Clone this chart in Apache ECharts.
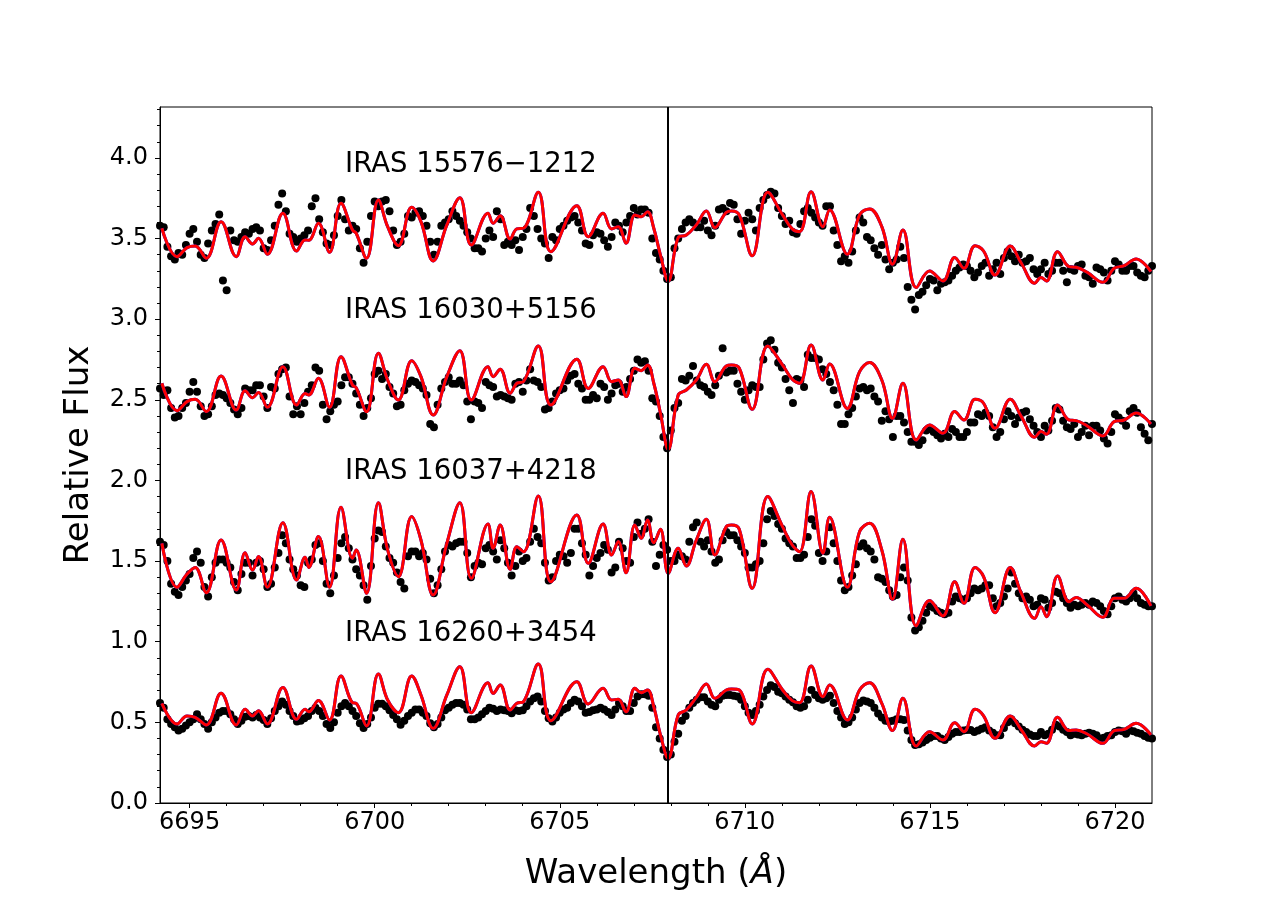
<!DOCTYPE html>
<html><head><meta charset="utf-8">
<script src="https://cdn.jsdelivr.net/npm/echarts@6/dist/echarts.min.js"></script>
<style>html,body{margin:0;padding:0;background:#fff}#chart{width:1280px;height:902px}</style>
</head><body><div id="chart"></div>
<script>
// ---------- axis ticks ----------
const xTicks = [6695, 6700, 6705, 6710, 6715, 6720];
const xMinorTicks = [6695,6696,6697,6698,6699,6700,6701,6702,6703,6704,6705,6706,6707,6708,6709,6710,6711,6712,6713,6714,6715,6716,6717,6718,6719,6720];
const yTicks = [0.0, 0.5, 1.0, 1.5, 2.0, 2.5, 3.0, 3.5, 4.0];
const yMinorTicks = [0.1,0.2,0.3,0.4,0.6,0.7,0.8,0.9,1.1,1.2,1.3,1.4,1.6,1.7,1.8,1.9,2.1,2.2,2.3,2.4,2.6,2.7,2.8,2.9,3.1,3.2,3.3,3.4,3.6,3.7,3.8,3.9,4.1,4.2,4.3];
const liLine = 6707.91;

// ---------- star labels ----------
const starNames = ['IRAS 15576\u22121212', 'IRAS 16030+5156', 'IRAS 16037+4218', 'IRAS 16260+3454'];
const labelX = [6699.2, 6699.2, 6699.2, 6699.2];
const labelY = [3.96, 3.05, 2.055, 1.05];

// ---------- observed spectra (wavelength grid 6694.2 .. 6721.0, step 0.1 A) ----------
const obsStart = 6694.2, obsStep = 0.1;
const obs1 = [3.58,3.57,3.45,3.39,3.37,3.41,3.40,3.46,3.53,3.56,
3.48,3.40,3.38,3.47,3.55,3.59,3.65,3.24,3.18,3.55,
3.49,3.48,3.51,3.54,3.53,3.56,3.57,3.55,3.44,3.43,
3.49,3.58,3.71,3.78,3.67,3.53,3.51,3.48,3.50,3.52,
3.55,3.70,3.75,3.62,3.54,3.47,3.46,3.52,3.64,3.74,
3.62,3.55,3.58,3.56,3.44,3.35,3.48,3.64,3.73,3.70,
3.73,3.74,3.67,3.55,3.46,3.48,3.53,3.64,3.63,3.66,
3.67,3.64,3.58,3.48,3.40,3.48,3.58,3.60,3.62,3.67,
3.64,3.61,3.58,3.54,3.50,3.44,3.44,3.42,3.50,3.55,
3.51,3.67,3.62,3.46,3.48,3.46,3.49,3.43,3.51,3.56,
3.69,3.64,3.56,3.50,3.47,3.38,3.51,3.49,3.56,3.58,
3.61,3.63,3.64,3.60,3.55,3.47,3.46,3.52,3.54,3.53,
3.49,3.45,3.51,3.60,3.58,3.54,3.60,3.64,3.69,3.65,
3.68,3.68,3.66,3.50,3.41,3.37,3.30,3.25,3.26,3.44,
3.50,3.56,3.60,3.62,3.60,3.57,3.57,3.61,3.55,3.52,
3.58,3.68,3.69,3.67,3.72,3.71,3.62,3.53,3.61,3.66,
3.62,3.55,3.69,3.74,3.77,3.79,3.78,3.69,3.64,3.59,
3.61,3.54,3.53,3.59,3.67,3.69,3.66,3.63,3.60,3.58,
3.70,3.70,3.55,3.46,3.36,3.39,3.35,3.42,3.55,3.63,
3.60,3.51,3.49,3.44,3.40,3.46,3.37,3.31,3.35,3.37,
3.45,3.38,3.20,3.12,3.06,3.15,3.17,3.21,3.25,3.24,
3.18,3.22,3.23,3.24,3.27,3.30,3.32,3.34,3.33,3.30,
3.26,3.29,3.33,3.35,3.27,3.31,3.35,3.28,3.38,3.42,
3.39,3.36,3.40,3.35,3.36,3.38,3.31,3.28,3.31,3.35,
3.28,3.30,3.35,3.35,3.30,3.23,3.31,3.30,3.33,3.34,
3.27,3.26,3.22,3.32,3.31,3.29,3.24,3.30,3.36,3.34,
3.30,3.30,3.33,3.33,3.29,3.27,3.26,3.30,3.33];
const obs2 = [2.57,2.53,2.56,2.45,2.39,2.40,2.45,2.48,2.55,2.61,
2.55,2.46,2.40,2.41,2.46,2.53,2.54,2.53,2.51,2.48,
2.44,2.41,2.45,2.57,2.56,2.56,2.59,2.59,2.52,2.45,
2.58,2.57,2.66,2.69,2.70,2.52,2.41,2.46,2.41,2.48,
2.55,2.59,2.70,2.68,2.47,2.38,2.43,2.47,2.49,2.59,
2.64,2.64,2.60,2.54,2.47,2.40,2.45,2.51,2.66,2.68,
2.63,2.66,2.58,2.54,2.46,2.47,2.56,2.60,2.62,2.61,
2.59,2.57,2.53,2.35,2.33,2.47,2.57,2.61,2.64,2.60,
2.60,2.62,2.59,2.49,2.38,2.49,2.48,2.45,2.61,2.59,
2.58,2.52,2.53,2.52,2.51,2.50,2.60,2.61,2.55,2.62,
2.69,2.62,2.61,2.58,2.44,2.45,2.49,2.54,2.56,2.57,
2.62,2.65,2.66,2.60,2.57,2.50,2.50,2.53,2.51,2.60,
2.58,2.50,2.54,2.59,2.60,2.55,2.58,2.63,2.68,2.75,
2.73,2.74,2.68,2.51,2.49,2.40,2.27,2.20,2.31,2.45,
2.48,2.63,2.62,2.65,2.71,2.62,2.59,2.58,2.55,2.53,
2.59,2.65,2.82,2.67,2.68,2.68,2.60,2.55,2.50,2.56,
2.59,2.58,2.58,2.75,2.85,2.87,2.81,2.73,2.70,2.63,
2.56,2.48,2.63,2.62,2.58,2.78,2.76,2.76,2.75,2.69,
2.66,2.61,2.56,2.47,2.35,2.35,2.41,2.45,2.52,2.57,
2.58,2.56,2.57,2.52,2.49,2.37,2.43,2.38,2.27,2.40,
2.40,2.36,2.30,2.24,2.24,2.22,2.25,2.31,2.32,2.30,
2.28,2.26,2.29,2.27,2.32,2.30,2.27,2.27,2.30,2.36,
2.36,2.41,2.40,2.42,2.40,2.33,2.27,2.30,2.38,2.43,
2.40,2.35,2.39,2.42,2.43,2.38,2.34,2.30,2.27,2.34,
2.31,2.37,2.45,2.44,2.37,2.33,2.32,2.35,2.27,2.30,
2.34,2.28,2.34,2.34,2.31,2.26,2.23,2.30,2.41,2.39,
2.37,2.34,2.43,2.45,2.42,2.33,2.29,2.25,2.35];
const obs3 = [1.62,1.60,1.50,1.36,1.31,1.29,1.34,1.38,1.42,1.52,
1.56,1.49,1.34,1.28,1.40,1.49,1.51,1.51,1.49,1.46,
1.37,1.32,1.42,1.49,1.49,1.41,1.49,1.50,1.45,1.34,
1.36,1.46,1.55,1.66,1.61,1.51,1.45,1.41,1.35,1.34,
1.49,1.51,1.60,1.61,1.50,1.36,1.30,1.41,1.52,1.61,
1.65,1.58,1.51,1.45,1.41,1.35,1.26,1.47,1.64,1.69,
1.68,1.59,1.52,1.49,1.43,1.37,1.33,1.53,1.56,1.56,
1.53,1.55,1.51,1.39,1.30,1.35,1.45,1.56,1.60,1.59,
1.61,1.62,1.62,1.55,1.40,1.47,1.49,1.48,1.58,1.60,
1.56,1.51,1.63,1.58,1.49,1.41,1.47,1.56,1.50,1.52,
1.62,1.70,1.65,1.61,1.49,1.38,1.40,1.50,1.54,1.53,
1.49,1.55,1.70,1.70,1.61,1.54,1.41,1.47,1.52,1.55,
1.60,1.57,1.43,1.46,1.62,1.58,1.50,1.49,1.65,1.74,
1.67,1.70,1.76,1.62,1.47,1.54,1.60,1.57,1.50,1.50,
1.54,1.53,1.51,1.62,1.71,1.74,1.62,1.59,1.63,1.56,
1.49,1.51,1.63,1.68,1.66,1.66,1.63,1.59,1.55,1.46,
1.46,1.48,1.50,1.61,1.76,1.81,1.78,1.73,1.70,1.64,
1.61,1.59,1.52,1.52,1.54,1.65,1.76,1.72,1.55,1.50,
1.56,1.71,1.61,1.50,1.38,1.32,1.34,1.41,1.48,1.59,
1.61,1.58,1.56,1.51,1.40,1.39,1.37,1.32,1.28,1.29,
1.40,1.46,1.38,1.15,1.07,1.09,1.13,1.18,1.22,1.21,
1.19,1.18,1.17,1.18,1.25,1.28,1.27,1.26,1.27,1.30,
1.33,1.32,1.33,1.35,1.35,1.27,1.22,1.24,1.28,1.33,
1.43,1.36,1.30,1.27,1.28,1.26,1.22,1.23,1.27,1.26,
1.21,1.24,1.31,1.30,1.27,1.24,1.21,1.23,1.22,1.23,
1.24,1.23,1.25,1.24,1.22,1.19,1.17,1.22,1.27,1.28,
1.26,1.25,1.27,1.30,1.27,1.24,1.23,1.22,1.22];
const obs4 = [0.62,0.59,0.52,0.49,0.47,0.45,0.46,0.48,0.50,0.52,
0.55,0.52,0.49,0.46,0.50,0.53,0.56,0.57,0.57,0.55,
0.52,0.49,0.51,0.535,0.54,0.53,0.545,0.53,0.515,0.49,
0.525,0.57,0.60,0.63,0.61,0.57,0.54,0.505,0.51,0.525,
0.54,0.57,0.59,0.57,0.54,0.49,0.465,0.50,0.56,0.60,
0.62,0.60,0.57,0.54,0.495,0.465,0.49,0.53,0.59,0.615,
0.615,0.60,0.575,0.545,0.52,0.485,0.51,0.54,0.56,0.58,
0.58,0.56,0.54,0.495,0.47,0.49,0.53,0.575,0.59,0.61,
0.62,0.62,0.61,0.58,0.52,0.52,0.53,0.55,0.57,0.59,
0.585,0.57,0.58,0.575,0.57,0.556,0.575,0.57,0.575,0.60,
0.63,0.65,0.66,0.63,0.57,0.525,0.505,0.53,0.56,0.58,
0.59,0.62,0.64,0.63,0.60,0.56,0.565,0.575,0.58,0.59,
0.58,0.565,0.545,0.58,0.62,0.60,0.57,0.57,0.62,0.66,
0.675,0.675,0.665,0.59,0.47,0.40,0.33,0.285,0.30,0.38,
0.43,0.51,0.54,0.59,0.62,0.64,0.655,0.655,0.63,0.61,
0.60,0.64,0.665,0.67,0.67,0.665,0.66,0.64,0.60,0.56,
0.545,0.57,0.61,0.66,0.70,0.73,0.72,0.69,0.68,0.66,
0.64,0.625,0.60,0.59,0.60,0.64,0.70,0.67,0.65,0.64,
0.65,0.665,0.62,0.57,0.53,0.49,0.50,0.53,0.58,0.62,
0.635,0.63,0.62,0.59,0.555,0.53,0.51,0.505,0.51,0.52,
0.52,0.515,0.45,0.39,0.36,0.365,0.375,0.39,0.405,0.415,
0.415,0.40,0.39,0.41,0.43,0.44,0.44,0.45,0.453,0.453,
0.44,0.45,0.46,0.47,0.45,0.435,0.42,0.42,0.465,0.50,
0.52,0.495,0.475,0.455,0.44,0.425,0.415,0.415,0.44,0.42,
0.43,0.455,0.485,0.475,0.455,0.44,0.42,0.43,0.425,0.42,
0.43,0.435,0.43,0.42,0.40,0.405,0.415,0.42,0.44,0.45,
0.445,0.43,0.45,0.445,0.435,0.43,0.415,0.405,0.40];

// ---------- synthetic (model) spectra, read at feature wavelengths ----------
const modelWave = [6694.25,6694.66,6694.93,6695.15,6695.45,6695.85,6696.26,6696.50,6696.70,6696.86,
6697.10,6697.52,6697.89,6698.12,6698.22,6698.48,6698.78,6699.09,6699.40,6699.50,
6699.78,6700.10,6700.35,6700.64,6701.00,6701.25,6701.58,6701.95,6702.30,6702.61,
6703.06,6703.20,6703.39,6703.66,6703.84,6704.02,6704.42,6704.76,6705.46,6705.77,
6706.17,6706.40,6706.58,6706.79,6707.03,6707.20,6707.37,6707.54,6707.72,6707.93,
6708.20,6708.42,6708.69,6708.96,6709.19,6709.50,6709.64,6709.85,6710.20,6710.62,
6711.02,6711.28,6711.48,6711.79,6712.11,6712.29,6712.77,6713.10,6713.37,6713.70,
6713.99,6714.27,6714.63,6714.99,6715.35,6715.67,6715.92,6716.22,6716.45,6716.76,
6717.17,6717.47,6717.83,6718.00,6718.15,6718.45,6718.76,6718.95,6719.25,6719.67,
6719.98,6720.25,6720.57,6720.97];
const model1 = [3.564,3.388,3.444,3.454,3.378,3.605,3.388,3.512,3.467,3.502,
3.403,3.657,3.423,3.491,3.490,3.595,3.415,3.719,3.553,3.533,
3.378,3.740,3.574,3.456,3.694,3.605,3.361,3.585,3.754,3.460,
3.657,3.595,3.642,3.498,3.560,3.564,3.787,3.419,3.704,3.512,
3.657,3.560,3.574,3.471,3.647,3.636,3.667,3.564,3.398,3.237,
3.506,3.522,3.585,3.671,3.568,3.663,3.671,3.647,3.394,3.787,
3.647,3.560,3.543,3.791,3.574,3.678,3.403,3.647,3.684,3.574,
3.341,3.553,3.196,3.299,3.237,3.382,3.316,3.456,3.423,3.274,
3.454,3.347,3.223,3.258,3.237,3.419,3.326,3.322,3.291,3.229,
3.316,3.332,3.374,3.295];
const model2 = [2.603,2.433,2.489,2.503,2.427,2.648,2.437,2.557,2.513,2.545,
2.454,2.706,2.468,2.540,2.530,2.634,2.454,2.768,2.592,2.575,
2.427,2.789,2.623,2.499,2.743,2.644,2.406,2.644,2.805,2.499,
2.706,2.644,2.690,2.541,2.603,2.613,2.834,2.468,2.752,2.571,
2.706,2.613,2.623,2.520,2.696,2.681,2.716,2.603,2.417,2.193,
2.530,2.561,2.623,2.720,2.613,2.710,2.716,2.696,2.441,2.834,
2.716,2.628,2.603,2.840,2.623,2.722,2.447,2.675,2.731,2.623,
2.386,2.603,2.251,2.344,2.293,2.427,2.375,2.503,2.479,2.324,
2.503,2.396,2.268,2.303,2.287,2.468,2.375,2.371,2.338,2.276,
2.365,2.375,2.419,2.350];
const model3 = [1.610,1.338,1.420,1.461,1.304,1.631,1.321,1.552,1.445,1.528,
1.338,1.738,1.383,1.524,1.461,1.652,1.338,1.834,1.517,1.569,
1.300,1.862,1.569,1.404,1.776,1.631,1.290,1.610,1.862,1.393,
1.730,1.579,1.724,1.449,1.589,1.558,1.904,1.372,1.786,1.486,
1.730,1.538,1.621,1.428,1.724,1.642,1.755,1.614,1.697,1.424,
1.579,1.470,1.631,1.759,1.538,1.714,1.724,1.697,1.331,1.900,
1.714,1.600,1.558,1.931,1.549,1.772,1.338,1.683,1.734,1.569,
1.263,1.635,1.098,1.255,1.160,1.372,1.238,1.461,1.404,1.180,
1.461,1.300,1.145,1.217,1.155,1.408,1.248,1.275,1.228,1.152,
1.269,1.269,1.331,1.222];
const model4 = [0.618,0.490,0.540,0.531,0.484,0.680,0.484,0.581,0.540,0.572,
0.490,0.717,0.519,0.581,0.566,0.635,0.515,0.788,0.622,0.618,
0.478,0.800,0.639,0.560,0.788,0.670,0.463,0.670,0.845,0.560,
0.746,0.680,0.732,0.577,0.618,0.628,0.862,0.510,0.752,0.614,
0.711,0.639,0.643,0.566,0.711,0.684,0.701,0.597,0.422,0.277,
0.546,0.577,0.655,0.738,0.649,0.701,0.707,0.701,0.490,0.829,
0.701,0.635,0.622,0.850,0.659,0.732,0.515,0.701,0.746,0.618,
0.449,0.649,0.353,0.442,0.391,0.498,0.442,0.581,0.540,0.401,
0.540,0.453,0.353,0.380,0.370,0.531,0.449,0.453,0.428,0.370,
0.449,0.457,0.494,0.422];

// ---------- build ----------
const FONT = 'DejaVu Sans';
const obsList = [obs1, obs2, obs3, obs4];
const modelList = [model1, model2, model3, model4];
const pairsObs = arr => arr.map((v, i) => [+(obsStart + obsStep * i).toFixed(2), v]);
const pairsModel = arr => arr.map((v, i) => [modelWave[i], v]);

const series = [];
obsList.forEach((o, i) => {
  const s = {
    type: 'scatter', xAxisIndex: 0, yAxisIndex: 0, data: pairsObs(o),
    symbol: 'circle', symbolSize: 8, itemStyle: { color: '#000', opacity: 1 }, z: 2, silent: true
  };
  if (i === 0) {
    s.markLine = {
      symbol: 'none', silent: true, label: { show: false },
      lineStyle: { color: '#000', type: 'solid', width: 2, opacity: 1 },
      data: [{ xAxis: liLine }]
    };
  }
  series.push(s);
});
modelList.forEach(m => {
  series.push({ type: 'line', xAxisIndex: 0, yAxisIndex: 0, data: pairsModel(m), showSymbol: false, smooth: 0.4,
    lineStyle: { color: '#0000ff', width: 3 }, z: 3, silent: true });
  series.push({ type: 'line', xAxisIndex: 0, yAxisIndex: 0, data: pairsModel(m), showSymbol: false, smooth: 0.4,
    lineStyle: { color: '#ff0000', width: 3 }, z: 4, silent: true });
});
series.push({
  type: 'scatter', xAxisIndex: 0, yAxisIndex: 0, symbolSize: 0, silent: true, z: 5,
  itemStyle: { opacity: 1 },
  data: starNames.map((n, i) => [labelX[i], labelY[i], n]),
  label: { show: true, position: 'right', distance: 0, formatter: p => p.data[2],
    fontSize: 27.5, fontFamily: FONT, color: '#000', opacity: 1 }
});

const chart = echarts.init(document.getElementById('chart'), null, { renderer: 'canvas' });
chart.setOption({
  animation: false,
  backgroundColor: '#fff',
  grid: { left: 160, right: 128, top: 107, bottom: 99, show: true, borderColor: '#000', borderWidth: 1, backgroundColor: 'transparent' },
  xAxis: [{
    type: 'value', min: 6694.2, max: 6721, position: 'bottom',
    axisLine: { show: true, onZero: false, lineStyle: { color: '#000', width: 1 } },
    axisTick: { show: true, customValues: xTicks, length: 5, lineStyle: { color: '#000', width: 1 } },
    axisLabel: { customValues: xTicks, fontSize: 24, fontFamily: FONT, color: '#000', margin: 8, formatter: v => String(Math.round(v)) },
    splitLine: { show: false },
    name: 'Wavelength ({it|\u00C5})', nameLocation: 'middle', nameGap: 54,
    nameTextStyle: { fontSize: 34, fontFamily: FONT, color: '#000',
      rich: { it: { fontSize: 34, fontFamily: FONT, fontStyle: 'italic', color: '#000' } } }
  }, {
    type: 'value', min: 6694.2, max: 6721, position: 'bottom',
    axisLine: { show: false },
    axisTick: { show: true, customValues: xMinorTicks, length: 3, lineStyle: { color: '#000', width: 1 } },
    axisLabel: { show: false }, splitLine: { show: false }
  }],
  yAxis: [{
    type: 'value', min: 0, max: 4.316, position: 'left',
    axisLine: { show: true, onZero: false, lineStyle: { color: '#000', width: 1 } },
    axisTick: { show: true, customValues: yTicks, length: 5, lineStyle: { color: '#000', width: 1 } },
    axisLabel: { customValues: yTicks, fontSize: 24, fontFamily: FONT, color: '#000', margin: 12, formatter: v => v.toFixed(1) },
    splitLine: { show: false },
    name: 'Relative Flux', nameLocation: 'middle', nameGap: 64,
    nameTextStyle: { fontSize: 34, fontFamily: FONT, color: '#000' }
  }, {
    type: 'value', min: 0, max: 4.316, position: 'left',
    axisLine: { show: false },
    axisTick: { show: true, customValues: yMinorTicks, length: 3, lineStyle: { color: '#000', width: 1 } },
    axisLabel: { show: false }, splitLine: { show: false }
  }],
  series: series
});
</script>
</body></html>
